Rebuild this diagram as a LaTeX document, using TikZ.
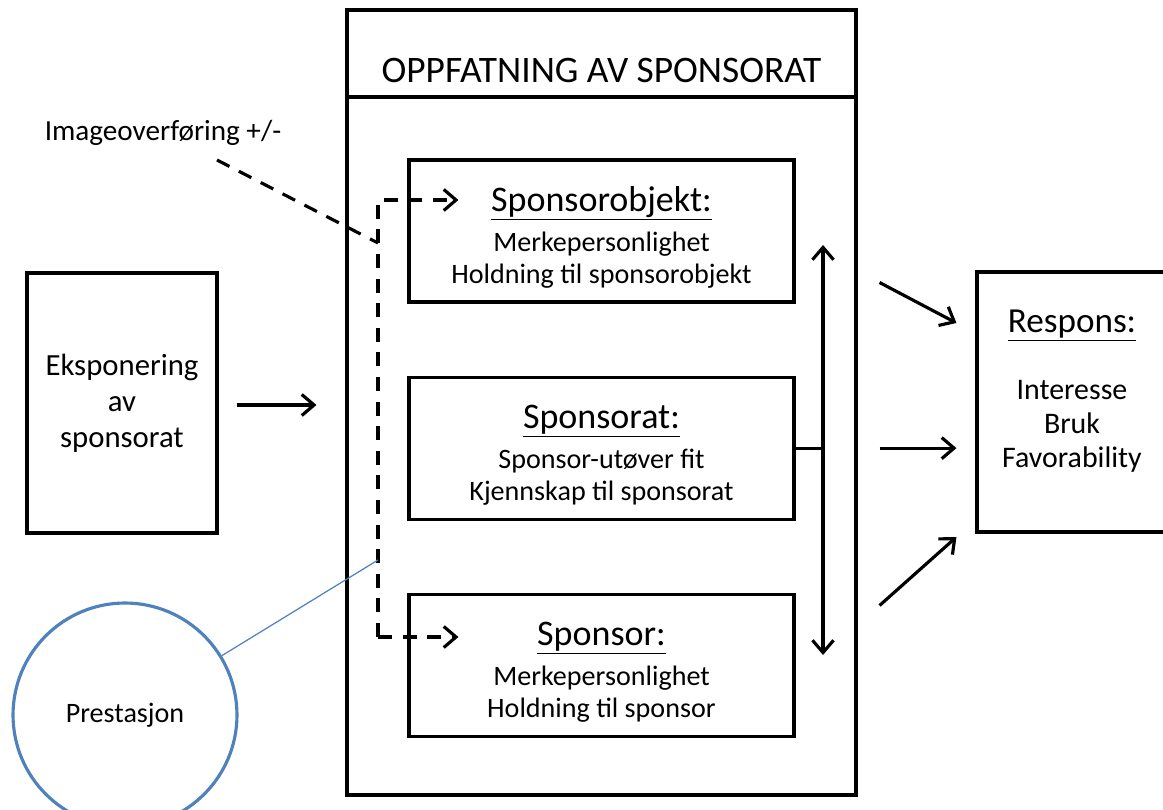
\documentclass[tikz,border=0pt]{standalone}
\usepackage{fontspec}
\setmainfont{Carlito}
\usetikzlibrary{positioning,calc,arrows.meta}

\definecolor{kantblaa}{RGB}{79,129,189}

\begin{document}
\begin{tikzpicture}[x=0.02cm,y=-0.02cm,>={Straight Barb[length=7pt,width=12pt,line width=1.8pt]},line width=1.8pt]
	\tikzstyle{boks}=[draw,line width=1.8pt,align=center,inner sep=0pt,font=\fontsize{16}{18}\selectfont]
	\tikzstyle{indre}=[boks,minimum width=7.7cm,minimum height=2.84cm]
	\tikzstyle{stiplet}=[line width=1.8pt,dash pattern=on 8pt off 6pt]
	\newcommand{\overskrift}[1]{{\fontsize{20.5}{24}\selectfont\rule{0pt}{21pt}\underline{#1}}}

	\useasboundingbox (0,0) rectangle (1163,810);
	\clip (0,0) rectangle (1163,810);

	% rammen
	\node[boks,minimum width=10.18cm,minimum height=15.7cm] (ramme) at (601.5,402.5) {};
	\node[font=\fontsize{21.3}{25}\selectfont] (tittel) at (601.5,70) {OPPFATNING AV SPONSORAT};
	\draw[line width=1.8pt] (ramme.west |- 0,97) -- (ramme.east |- 0,97);

	\node[indre] (objekt) at (601.5,231) {\overskrift{Sponsorobjekt:}\\[5pt] Merkepersonlighet\\ Holdning til sponsorobjekt};
	\node[indre] (sat) [below=1.44cm of objekt] {\overskrift{Sponsorat:}\\[5pt] Sponsor-utøver fit\\ Kjennskap til sponsorat};
	\node[indre] (sor) [below=1.44cm of sat] {\overskrift{Sponsor:}\\[5pt] Merkepersonlighet\\ Holdning til sponsor};

	\node[boks,minimum width=3.8cm,minimum height=5.2cm,font=\fontsize{17.5}{20.5}\selectfont] (eksp) at (122,403) {Eksponering\\ av\\ sponsorat};
	\node[boks,minimum width=3.8cm,minimum height=5.2cm] (respons) at (1072,402) {};
	\node[align=center,font=\fontsize{17}{19.3}\selectfont] (resptekst) at (1072,391) {{\fontsize{20}{24}\selectfont\underline{Respons:}}\\[19pt] Interesse\\ Bruk\\ Favorability};

	\node[font=\fontsize{16.6}{19}\selectfont] (image) at (163,133) {Imageoverføring +/-};
	\node[circle,draw=kantblaa,line width=1.8pt,minimum size=4.48cm,font=\fontsize{16}{18.5}\selectfont] (prest) at (125,715) {Prestasjon};

	\coordinate (dstart) at (217,160);
	\coordinate (dknekk) at (378,243);
	\coordinate (dtop) at (378,200);
	\coordinate (dmid) at (378,560);
	\coordinate (dbot) at (378,637);
	\coordinate (vtop) at (823,245);
	\coordinate (vbot) at (823,655);

	% piler
	\draw[->,shorten <=0.36cm,shorten >=0.58cm] (eksp.east |- 0,405) -- (ramme.west |- 0,405);
	\draw[<->] (vtop) -- (vbot);
	\draw (sat.east) -- (sat.east -| vtop);
	\draw[->] ($(ramme.east)+(22,-120)$) -- ($(respons.west)+(-19,-79)$);
	\draw[->] ($(ramme.east |- sat)+(22,0)$) -- ($(respons.west |- sat)+(-19,0)$);
	\draw[->] ($(ramme.east)+(22,203)$) -- ($(respons.west)+(-19,135)$);

	% imageoverfoering
	\draw[stiplet] (dstart) -- (dknekk);
	\draw[stiplet,->] (dbot) -- (dtop) -- ($(objekt.west |- dtop)+(51,0)$);
	\draw[stiplet,->] (dbot) -- ($(sor.west |- dbot)+(51,0)$);
	\draw[kantblaa,line width=0.7pt] (prest) -- (dmid);
\end{tikzpicture}
\end{document}
